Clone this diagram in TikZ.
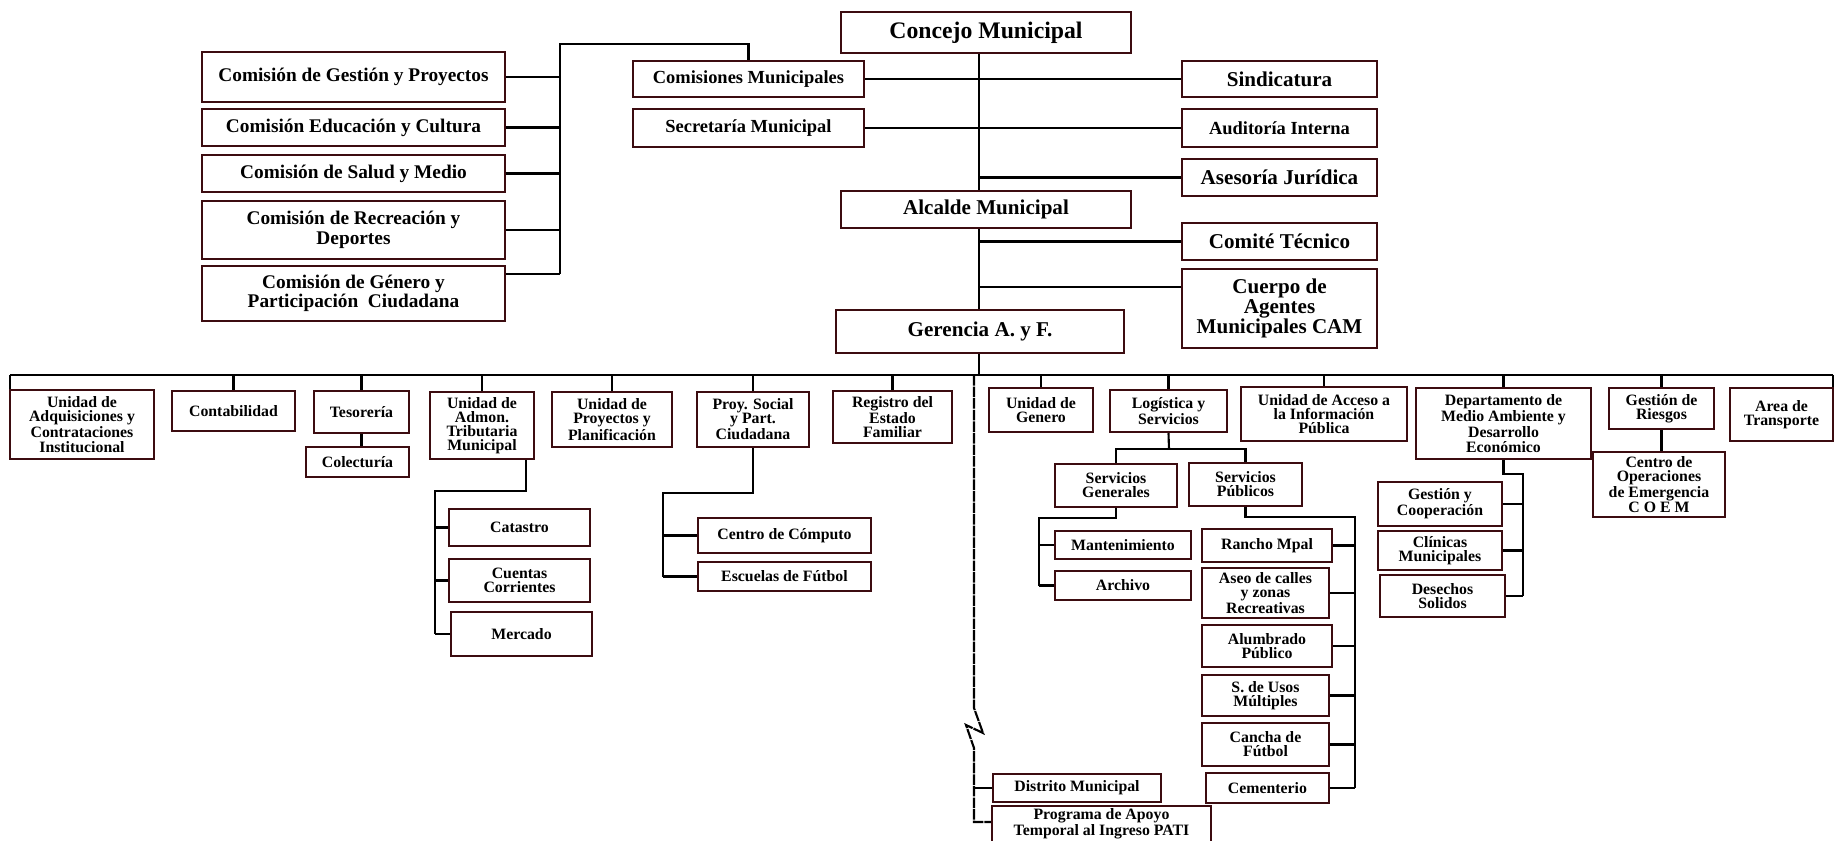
\documentclass[tikz,border=0pt]{standalone}
\usepackage{fontspec}
\setmainfont{Liberation Serif}
\definecolor{boxred}{RGB}{60,12,16}

\begin{document}
\begin{tikzpicture}[x=0.02cm,y=-0.02cm]
	\tikzstyle{box}=[draw=boxred,line width=1.4pt,fill=white,align=center,inner sep=1pt,font=\bfseries\fontsize{9}{8}\selectfont]
	\tikzstyle{up}=[box,font=\bfseries\fontsize{11}{11}\selectfont]
	\tikzstyle{big}=[box,font=\bfseries\fontsize{12}{11.4}\selectfont]
	\tikzstyle{conn}=[black,line width=1.2pt]
	\tikzset{sz/.style 2 args={minimum width=#1*0.02cm,minimum height=#2*0.02cm}}
	\useasboundingbox (0,0) rectangle (1837,841);

	% concejo y comisiones
	\node[box,sz={290}{41},font=\bfseries\fontsize{13.5}{14}\selectfont] (conc) at (986,32.5) {Concejo Municipal};
	\node[up,sz={303}{50}] (cgest) at (353.5,77) {Comisión de Gestión y Proyectos};
	\node[up,sz={303}{37}] (cedu) at (353.5,127.5) {Comisión Educación y Cultura};
	\node[up,sz={303}{37}] (csal) at (353.5,173.5) {Comisión de Salud y Medio};
	\node[up,sz={303}{58}] (crec) at (353.5,230) {Comisión de Recreación y\\Deportes};
	\node[up,sz={303}{55}] (cgen) at (353.5,293.5) {Comisión de Género y\\Participación~~Ciudadana};
	\node[up,sz={231}{36},font=\bfseries\fontsize{10.5}{11}\selectfont] (comis) at (748.5,79) {Comisiones Municipales};
	\node[up,sz={231}{38},font=\bfseries\fontsize{10.5}{11}\selectfont] (secr) at (748.5,128) {Secretaría Municipal};
	\node[big,sz={195}{36}] (sind) at (1279.5,79) {Sindicatura};
	\node[up,sz={195}{38},font=\bfseries\fontsize{10.5}{11}\selectfont] (audi) at (1279.5,128) {Auditoría Interna};
	\node[big,sz={195}{37}] (ases) at (1279.5,177.5) {Asesoría Jurídica};
	\node[big,sz={290}{37}] (alc) at (986,209.5) {Alcalde Municipal};
	\node[big,sz={195}{37}] (comite) at (1279.5,241.5) {Comité Técnico};
	\node[big,sz={195}{79}] (cam) at (1279.5,308.5) {Cuerpo de\\Agentes\\Municipales CAM};
	\node[big,sz={288}{43}] (ger) at (980,331.5) {Gerencia A. y F.};

	% unidades
	\node[box,sz={144}{69}] (adq) at (82,424.5) {Unidad de\\Adquisiciones y\\Contrataciones\\Institucional};
	\node[box,sz={123}{40}] (cont) at (233.5,411) {Contabilidad};
	\node[box,sz={95}{42}] (teso) at (361.5,412) {Tesorería};
	\node[box,sz={103}{30}] (colec) at (357.5,462) {Colecturía};
	\node[box,sz={104}{67}] (admon) at (482,425.5) {Unidad de\\Admon.\\Tributaria\\Municipal};
	\node[box,sz={141}{37}] (catas) at (519.5,527.5) {Catastro};
	\node[box,sz={141}{43}] (cuent) at (519.5,580.5) {Cuentas\\Corrientes};
	\node[box,sz={141}{44}] (merc) at (521.5,634) {Mercado};
	\node[box,sz={120}{55}] (proy) at (612,419.5) {Unidad de\\Proyectos y\\Planificación};
	\node[box,sz={112}{55}] (psoc) at (753,419.5) {Proy. Social\\y Part.\\Ciudadana};
	\node[box,sz={173}{35}] (ccomp) at (784.5,535.5) {Centro de Cómputo};
	\node[box,sz={173}{29}] (escu) at (784.5,576.5) {Escuelas de Fútbol};
	\node[box,sz={119}{52}] (regis) at (892.5,417) {Registro del\\Estado\\Familiar};
	\node[box,sz={104}{44}] (ugen) at (1041,410) {Unidad de\\Genero};
	\node[box,sz={117}{42}] (logi) at (1168.5,411) {Logística y\\Servicios};
	\node[box,sz={166}{54}] (uaip) at (1324,414) {Unidad de Acceso a\\la Información\\Pública};
	\node[box,sz={122}{43}] (sgen) at (1116,485.5) {Servicios\\Generales};
	\node[box,sz={113}{43}] (spub) at (1245.5,484.5) {Servicios\\Públicos};
	\node[box,sz={136}{28}] (mant) at (1123,545) {Mantenimiento};
	\node[box,sz={136}{29}] (arch) at (1123,585.5) {Archivo};
	\node[box,sz={130}{33}] (ranch) at (1267,545.5) {Rancho Mpal};
	\node[box,sz={127}{50}] (aseo) at (1265.5,593) {Aseo de calles\\y zonas\\Recreativas};
	\node[box,sz={130}{42}] (alum) at (1267,646) {Alumbrado\\Público};
	\node[box,sz={127}{41}] (usos) at (1265.5,695.5) {S. de Usos\\Múltiples};
	\node[box,sz={127}{43}] (canch) at (1265.5,744.5) {Cancha de\\Fútbol};
	\node[box,sz={123}{30}] (cemen) at (1267.5,788) {Cementerio};
	\node[box,sz={168}{28}] (dist) at (1077,788) {Distrito Municipal};
	\node[box,sz={219}{36}] (pati) at (1101.5,824) {Programa de Apoyo\\Temporal al Ingreso PATI};
	\node[box,sz={175}{71}] (dma) at (1503.5,423.5) {Departamento de\\Medio Ambiente y\\Desarrollo\\Económico};
	\node[box,sz={124}{44}] (gcoop) at (1440,504) {Gestión y\\Cooperación};
	\node[box,sz={124}{39}] (clin) at (1440,550.5) {Clínicas\\Municipales};
	\node[box,sz={125}{42}] (desec) at (1442.5,596) {Desechos\\Solidos};
	\node[box,sz={105}{41}] (griesg) at (1661.5,408.5) {Gestión de\\Riesgos};
	\node[box,sz={132}{65}] (coem) at (1659,484.5) {Centro de\\Operaciones\\de Emergencia\\C O E M};
	\node[box,sz={103}{53}] (atrans) at (1781.5,414.5) {Area de\\Transporte};

	% lineas de arriba
	\coordinate (trunk) at (979,0);
	\coordinate (cbtop) at (560,44);
	\coordinate (cbbot) at (560,274);
	\coordinate (camjoin) at (979,287);
	\draw[conn] (trunk |- conc.south) -- (trunk |- alc.north);
	\draw[conn] (comis.east) -- (sind.west);
	\draw[conn] (secr.east) -- (audi.west);
	\draw[conn] (trunk |- ases.west) -- (ases.west);
	\draw[conn] (trunk |- alc.south) -- (trunk |- ger.north);
	\draw[conn] (trunk |- comite.west) -- (comite.west);
	\draw[conn] (camjoin) -- (camjoin -| cam.west);
	\draw[conn] (comis.north) |- (cbtop) -- (cbbot);
	\foreach \n in {cgest,cedu,csal,crec}
		\draw[conn] (\n.east) -- (\n.east -| cbtop);
	\draw[conn] (cgen.east |- cbbot) -- (cbbot);

	% barra de unidades
	\coordinate (bl) at (10,375);
	\coordinate (br) at (1833,375);
	\draw[conn] (bl) -- (br);
	\draw[conn] (trunk |- ger.south) -- (trunk |- bl);
	\draw[conn] (bl) -- (bl |- adq.north);
	\draw[conn] (br) -- (br |- atrans.north);
	\foreach \n in {cont,teso,admon,proy,psoc,regis,ugen,logi,uaip,dma,griesg}
		\draw[conn] (\n.north) -- (\n.north |- bl);
	\draw[conn] (teso.south) -- (teso.south |- colec.north);
	\draw[conn] (griesg.south) -- (griesg.south |- coem.north);

	% sub-ramas
	\coordinate (adout) at (526,491);
	\coordinate (adbus) at (435,491);
	\draw[conn] (adout |- admon.south) -- (adout) -- (adbus) -- (adbus |- merc.west);
	\foreach \n in {catas,cuent,merc}
		\draw[conn] (adbus |- \n.west) -- (\n.west);
	\coordinate (psbus) at (663,493);
	\draw[conn] (psoc.south) |- (psbus) -- (psbus |- escu.west);
	\foreach \n in {ccomp,escu}
		\draw[conn] (psbus |- \n.west) -- (\n.west);
	\coordinate (lgbus) at (1169,449);
	\draw[conn] (logi.south) -- (lgbus);
	\draw[conn] (sgen.north) |- (lgbus) -| (spub.north);
	\coordinate (sgbus) at (1039,518);
	\draw[conn] (sgen.south) |- (sgbus) -- (sgbus |- arch.west);
	\foreach \n in {mant,arch}
		\draw[conn] (sgbus |- \n.west) -- (\n.west);
	\coordinate (spbus) at (1355,517);
	\draw[conn] (spub.south) |- (spbus) -- (spbus |- cemen.east);
	\foreach \n in {ranch,aseo,alum,usos,canch,cemen}
		\draw[conn] (\n.east) -- (spbus |- \n.east);
	\coordinate (dmbus) at (1523,474);
	\draw[conn] (dma.south) |- (dmbus) -- (dmbus |- desec.east);
	\foreach \n in {gcoop,clin,desec}
		\draw[conn] (\n.east) -- (dmbus |- \n.east);

	% linea cortada hacia distrito
	\coordinate (gtop) at (974,375);
	\coordinate (gend) at (974,822);
	\draw[conn,dash pattern=on 6pt off 0.6pt] (gtop) -- (974,708) -- (983,733) -- (966,725) -- (974,748) -- (gend) -- (gend -| pati.west);
	\draw[conn] (gend |- dist.west) -- (dist.west);
\end{tikzpicture}
\end{document}
